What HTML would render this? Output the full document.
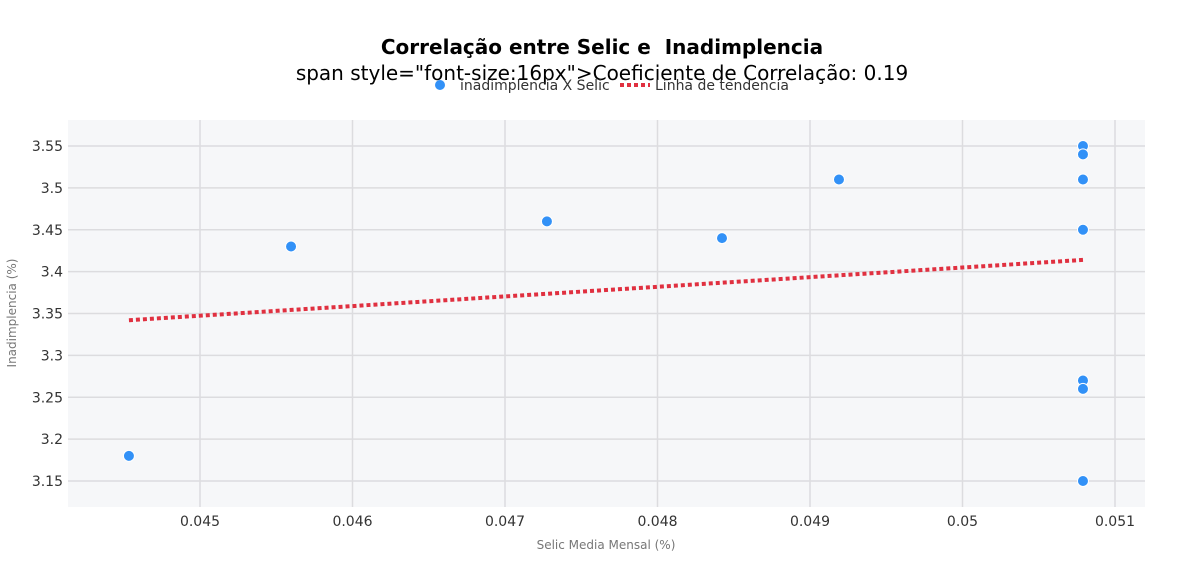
<!DOCTYPE html>
<html><head><meta charset="utf-8">
<style>
body{margin:0;background:#fff;font-family:"Liberation Sans","DejaVu Sans",sans-serif;}
svg text{font-family:"DejaVu Sans","Liberation Sans",sans-serif;white-space:pre;}
</style></head>
<body>
<svg id="chart" width="1204" height="567">
<rect x="68" y="120" width="1077" height="387" fill="#f6f7f9"/>
<g id="grid"></g>
<g id="marks"></g>
<text x="602" y="54" text-anchor="middle" font-size="20" font-weight="bold" fill="#000">Correlação entre Selic e  Inadimplencia</text>
<text x="602" y="80" text-anchor="middle" font-size="20" fill="#000">span style="font-size:16px"&gt;Coeficiente de Correlação: 0.19</text>
<g>
<circle cx="440" cy="85" r="5" fill="#3291f7"/>
<text x="460" y="90" font-size="14" fill="#333">inadimplencia X Selic</text>
<line x1="620" y1="85" x2="650" y2="85" stroke="#e03040" stroke-width="4" stroke-dasharray="4,3"/>
<text x="655" y="90" font-size="14" fill="#333">Linha de tendencia</text>
</g>
<text x="606" y="549" text-anchor="middle" font-size="12" fill="#777">Selic Media Mensal (%)</text>
<text transform="translate(16,313) rotate(-90)" text-anchor="middle" font-size="12" fill="#777">Inadimplencia (%)</text>
</svg>
<script>
const selic=[0.044534,0.045597,0.047275,0.048423,0.049190,0.05079,0.05079,0.05079,0.05079,0.05079,0.05079,0.05079];
const inad=[3.18,3.43,3.46,3.44,3.51,3.55,3.54,3.51,3.45,3.27,3.26,3.15];
const trendY=[3.342,3.414];
const xTicks=[0.045,0.046,0.047,0.048,0.049,0.05,0.051];
const xTickLabels=["0.045","0.046","0.047","0.048","0.049","0.05","0.051"];
const yTicks=[3.15,3.2,3.25,3.3,3.35,3.4,3.45,3.5,3.55];
const yTickLabels=["3.15","3.2","3.25","3.3","3.35","3.4","3.45","3.5","3.55"];
const NS="http://www.w3.org/2000/svg";
function xs(v){return 200+(v-0.045)*152500;}
function ys(v){return 146+(3.55-v)*837.5;}
const grid=document.getElementById('grid'),marks=document.getElementById('marks');
function mk(tag,at,parent){const e=document.createElementNS(NS,tag);for(const k in at)e.setAttribute(k,at[k]);parent.appendChild(e);return e;}
xTicks.forEach((t,i)=>{
 const l=mk('line',{x1:xs(t),x2:xs(t),y1:120,y2:507,stroke:'#dcdcdf','stroke-width':1.5},grid);
 
 
 const tx=mk('text',{x:xs(t),y:526,'text-anchor':'middle','font-size':14,fill:'#333'},grid);
 tx.textContent=xTickLabels[i];
 
 
});
yTicks.forEach((t,i)=>{
 const l=mk('line',{x1:68,x2:1145,y1:ys(t),y2:ys(t),stroke:'#dcdcdf','stroke-width':1.5},grid);
 
 
 const tx=mk('text',{x:63,y:ys(t)+5,'text-anchor':'end','font-size':14,fill:'#333'},grid);
 tx.textContent=yTickLabels[i];
 
 
});
const xmin=Math.min(...selic),xmax=Math.max(...selic);
const tl=mk('line',{x1:xs(xmin),y1:ys(trendY[0]),x2:xs(xmax),y2:ys(trendY[1]),stroke:'#e03040','stroke-width':4,'stroke-dasharray':'4,3'},marks);


selic.forEach((v,i)=>{
 const c=mk('circle',{cx:xs(v),cy:ys(inad[i]),r:5.5,fill:'#3291f7',stroke:'#fff','stroke-width':1},marks);
 
 
});
</script>
</body></html>
